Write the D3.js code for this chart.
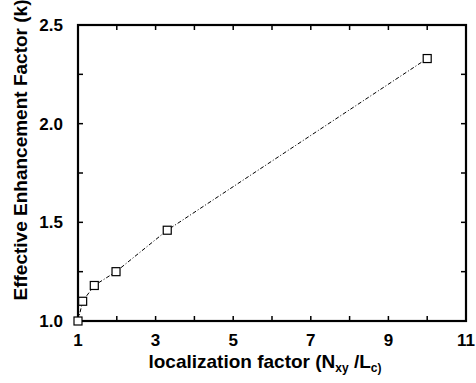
<!DOCTYPE html>
<html>
<head>
<meta charset="utf-8">
<script src="https://cdn.jsdelivr.net/npm/d3@7"></script>
<style>
  body { margin: 0; background: #fff; }
  svg { display: block; }
</style>
</head>
<body>
<div id="chart"></div>
<script>
// data
const xValues = [1.0, 1.12, 1.42, 1.98, 3.3, 10.0];
const yValues = [1.0, 1.10, 1.18, 1.25, 1.46, 2.33];
const xTickLabels = [1, 3, 5, 7, 9, 11];
const yTickLabels = [1.0, 1.5, 2.0, 2.5];

const W = 476, H = 383;
const margin = { t: 25, r: 10, b: 60, l: 78 };

const svg = d3.select("#chart").append("svg")
  .attr("width", W)
  .attr("height", H)
  .attr("font-family", "Liberation Sans, Arial, sans-serif")
  .attr("font-weight", "bold");

const scaleX = d3.scaleLinear().domain([1, 11]).range([margin.l, W - margin.r]);
const scaleY = d3.scaleLinear().domain([1, 2.5]).range([H - margin.b - 2, margin.t]);

const x0 = scaleX.range()[0], x1 = scaleX.range()[1];
const y0 = scaleY.range()[0], y1 = scaleY.range()[1];

// ticks on all four sides, pointing in
const xTicks = d3.range(1, 12, 1);
const yTicks = d3.range(1, 2.51, 0.25);

const tickG = svg.append("g").attr("stroke", "#000").attr("stroke-width", 1.5);
xTicks.forEach((v) => {
  tickG.append("line").attr("x1", scaleX(v)).attr("x2", scaleX(v)).attr("y1", y0).attr("y2", y0 - 5);
  tickG.append("line").attr("x1", scaleX(v)).attr("x2", scaleX(v)).attr("y1", y1).attr("y2", y1 + 5);
});
yTicks.forEach((v) => {
  tickG.append("line").attr("y1", scaleY(v)).attr("y2", scaleY(v)).attr("x1", x0).attr("x2", x0 + 5);
  tickG.append("line").attr("y1", scaleY(v)).attr("y2", scaleY(v)).attr("x1", x1).attr("x2", x1 - 5);
});

// frame
svg.append("rect")
  .attr("x", x0).attr("y", y1)
  .attr("width", x1 - x0).attr("height", y0 - y1)
  .attr("fill", "none").attr("stroke", "#000").attr("stroke-width", 2.2);

// tick labels
svg.append("g").selectAll("text").data(xTickLabels).join("text")
  .attr("x", (d) => scaleX(d))
  .attr("y", y0 + 25)
  .attr("text-anchor", "middle")
  .attr("font-size", 17)
  .text((d) => d);

svg.append("g").selectAll("text").data(yTickLabels).join("text")
  .attr("x", 63)
  .attr("y", (d) => scaleY(d) + 6)
  .attr("text-anchor", "end")
  .attr("font-size", 17)
  .text((d) => d.toFixed(1));

// axis titles
const xt = svg.append("text")
  .attr("x", 265).attr("y", 368)
  .attr("text-anchor", "middle")
  .attr("font-size", 19);
xt.append("tspan").text("localization factor (N");
xt.append("tspan").attr("font-size", 12).attr("dy", 4).text("xy");
xt.append("tspan").attr("dy", -4).text(" /L");
xt.append("tspan").attr("font-size", 12).attr("dy", 4).text("c)");

svg.append("text")
  .attr("transform", "translate(27,150) rotate(-90)")
  .attr("text-anchor", "middle")
  .attr("font-size", 19)
  .text("Effective Enhancement Factor (k)");

// data line
const pts = xValues.map((x, i) => [x, yValues[i]]);
const line = d3.line().x((d) => scaleX(d[0])).y((d) => scaleY(d[1]));

svg.append("path")
  .attr("d", line(pts))
  .attr("fill", "none")
  .attr("stroke", "#000")
  .attr("stroke-width", 1)
  .attr("stroke-dasharray", "4,2,1,2");

svg.append("g").selectAll("rect").data(pts).join("rect")
  .attr("x", (d) => scaleX(d[0]) - 4)
  .attr("y", (d) => scaleY(d[1]) - 4)
  .attr("width", 8)
  .attr("height", 8)
  .attr("fill", "#fff")
  .attr("stroke", "#000")
  .attr("stroke-width", 1.2);
</script>
</body>
</html>
